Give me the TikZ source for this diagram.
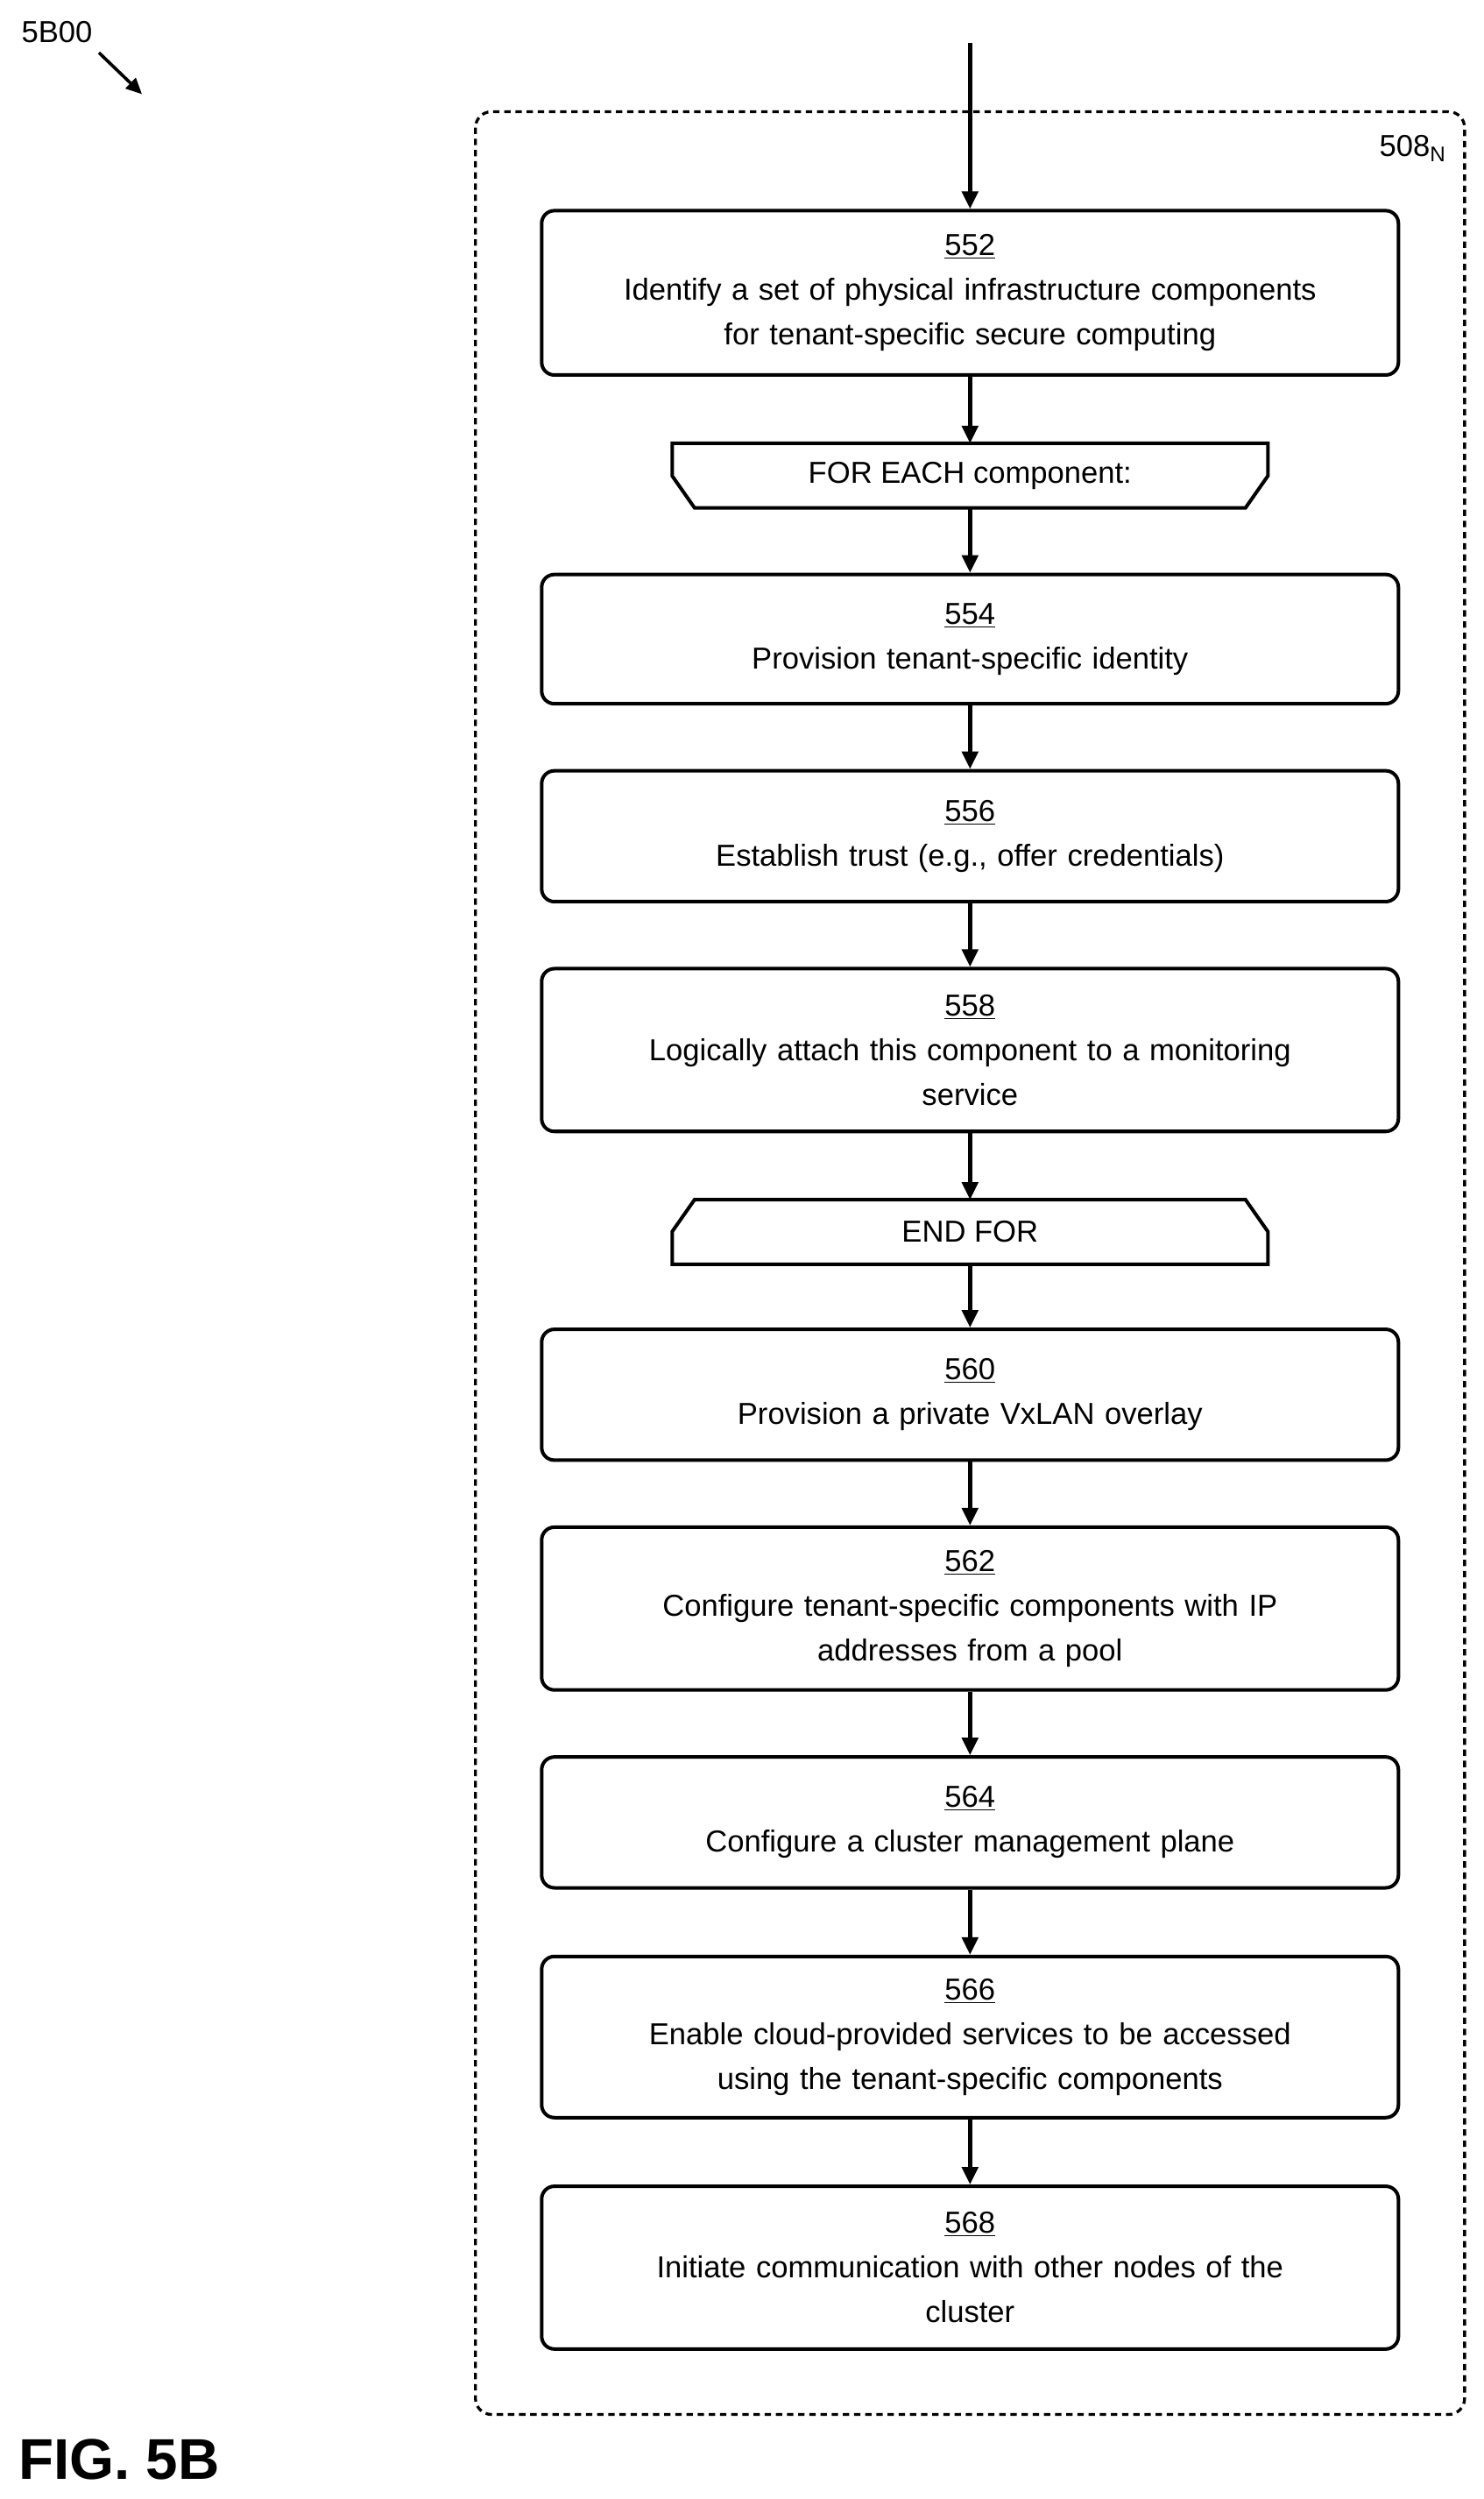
\documentclass[tikz,border=0pt]{standalone}
\usepackage{fontspec}
\setmainfont{Liberation Sans}
\usetikzlibrary{arrows.meta,calc}
\begin{document}
\begin{tikzpicture}[x=1pt,y=-1pt,
  box/.style={draw,line width=2.2pt,rounded corners=8pt,minimum width=537pt,text width=510pt,align=center,font=\fontsize{19}{28}\selectfont,inner sep=0pt},
  loopn/.style={minimum width=373pt,minimum height=40pt,font=\fontsize{19}{24}\selectfont,inner sep=0pt},
  arr/.style={line width=2.5pt,-{Triangle[length=11pt,width=10pt]}},
  lbl/.style={font=\fontsize{19}{24}\selectfont}]
\useasboundingbox (0,0) rectangle (930,1566);
\node[lbl,anchor=west] (fig) at (10,20) {5B00};
\coordinate (fa) at (62,33);
\coordinate (fb) at (89,59);
\draw[line width=2pt,-{Triangle[length=10pt,width=9pt]}] (fa) -- (fb);
\draw[line width=1.8pt,dash pattern=on 4pt off 3pt,rounded corners=10pt] (298,70) rectangle (918,1513);
\node[lbl,anchor=east] (n508) at (910,93) {508\textsubscript{N}};
\coordinate (top) at (608,27);
\newcommand{\bx}[4]{\node[box,minimum height=#3pt] (b#1) at (608,#2) {\underline{#1}\\#4};}
\bx{552}{183.5}{103}{Identify a set of physical infrastructure components\\for tenant-specific secure computing}
\node[loopn] (fe) at (608,298) {FOR EACH component:};
\draw[line width=2.2pt] (fe.north west) -- (fe.north east) -- ($(fe.south east)+(0,-20)$) -- ($(fe.south east)+(-14,0)$) -- ($(fe.south west)+(14,0)$) -- ($(fe.south west)+(0,-20)$) -- cycle;
\bx{554}{400.5}{81}{Provision tenant-specific identity}
\bx{556}{524}{82}{Establish trust (e.g., offer credentials)}
\bx{558}{658}{102}{Logically attach this component to a monitoring\\service}
\node[loopn] (ef) at (608,772) {END FOR};
\draw[line width=2.2pt] (ef.south west) -- (ef.south east) -- ($(ef.north east)+(0,20)$) -- ($(ef.north east)+(-14,0)$) -- ($(ef.north west)+(14,0)$) -- ($(ef.north west)+(0,20)$) -- cycle;
\bx{560}{874}{82}{Provision a private VxLAN overlay}
\bx{562}{1008}{102}{Configure tenant-specific components with IP\\addresses from a pool}
\bx{564}{1142}{82}{Configure a cluster management plane}
\bx{566}{1276.5}{101}{Enable cloud-provided services to be accessed\\using the tenant-specific components}
\bx{568}{1421}{102}{Initiate communication with other nodes of the\\cluster}
\draw[arr] (top) -- (b552);
\draw[arr] (b552) -- (fe);
\draw[arr] (fe) -- (b554);
\draw[arr] (b554) -- (b556);
\draw[arr] (b556) -- (b558);
\draw[arr] (b558) -- (ef);
\draw[arr] (ef) -- (b560);
\draw[arr] (b560) -- (b562);
\draw[arr] (b562) -- (b564);
\draw[arr] (b564) -- (b566);
\draw[arr] (b566) -- (b568);
\node[anchor=west,font=\bfseries\fontsize{36}{40}\selectfont] (cap) at (8,1541) {FIG. 5B};
\end{tikzpicture}
\end{document}
